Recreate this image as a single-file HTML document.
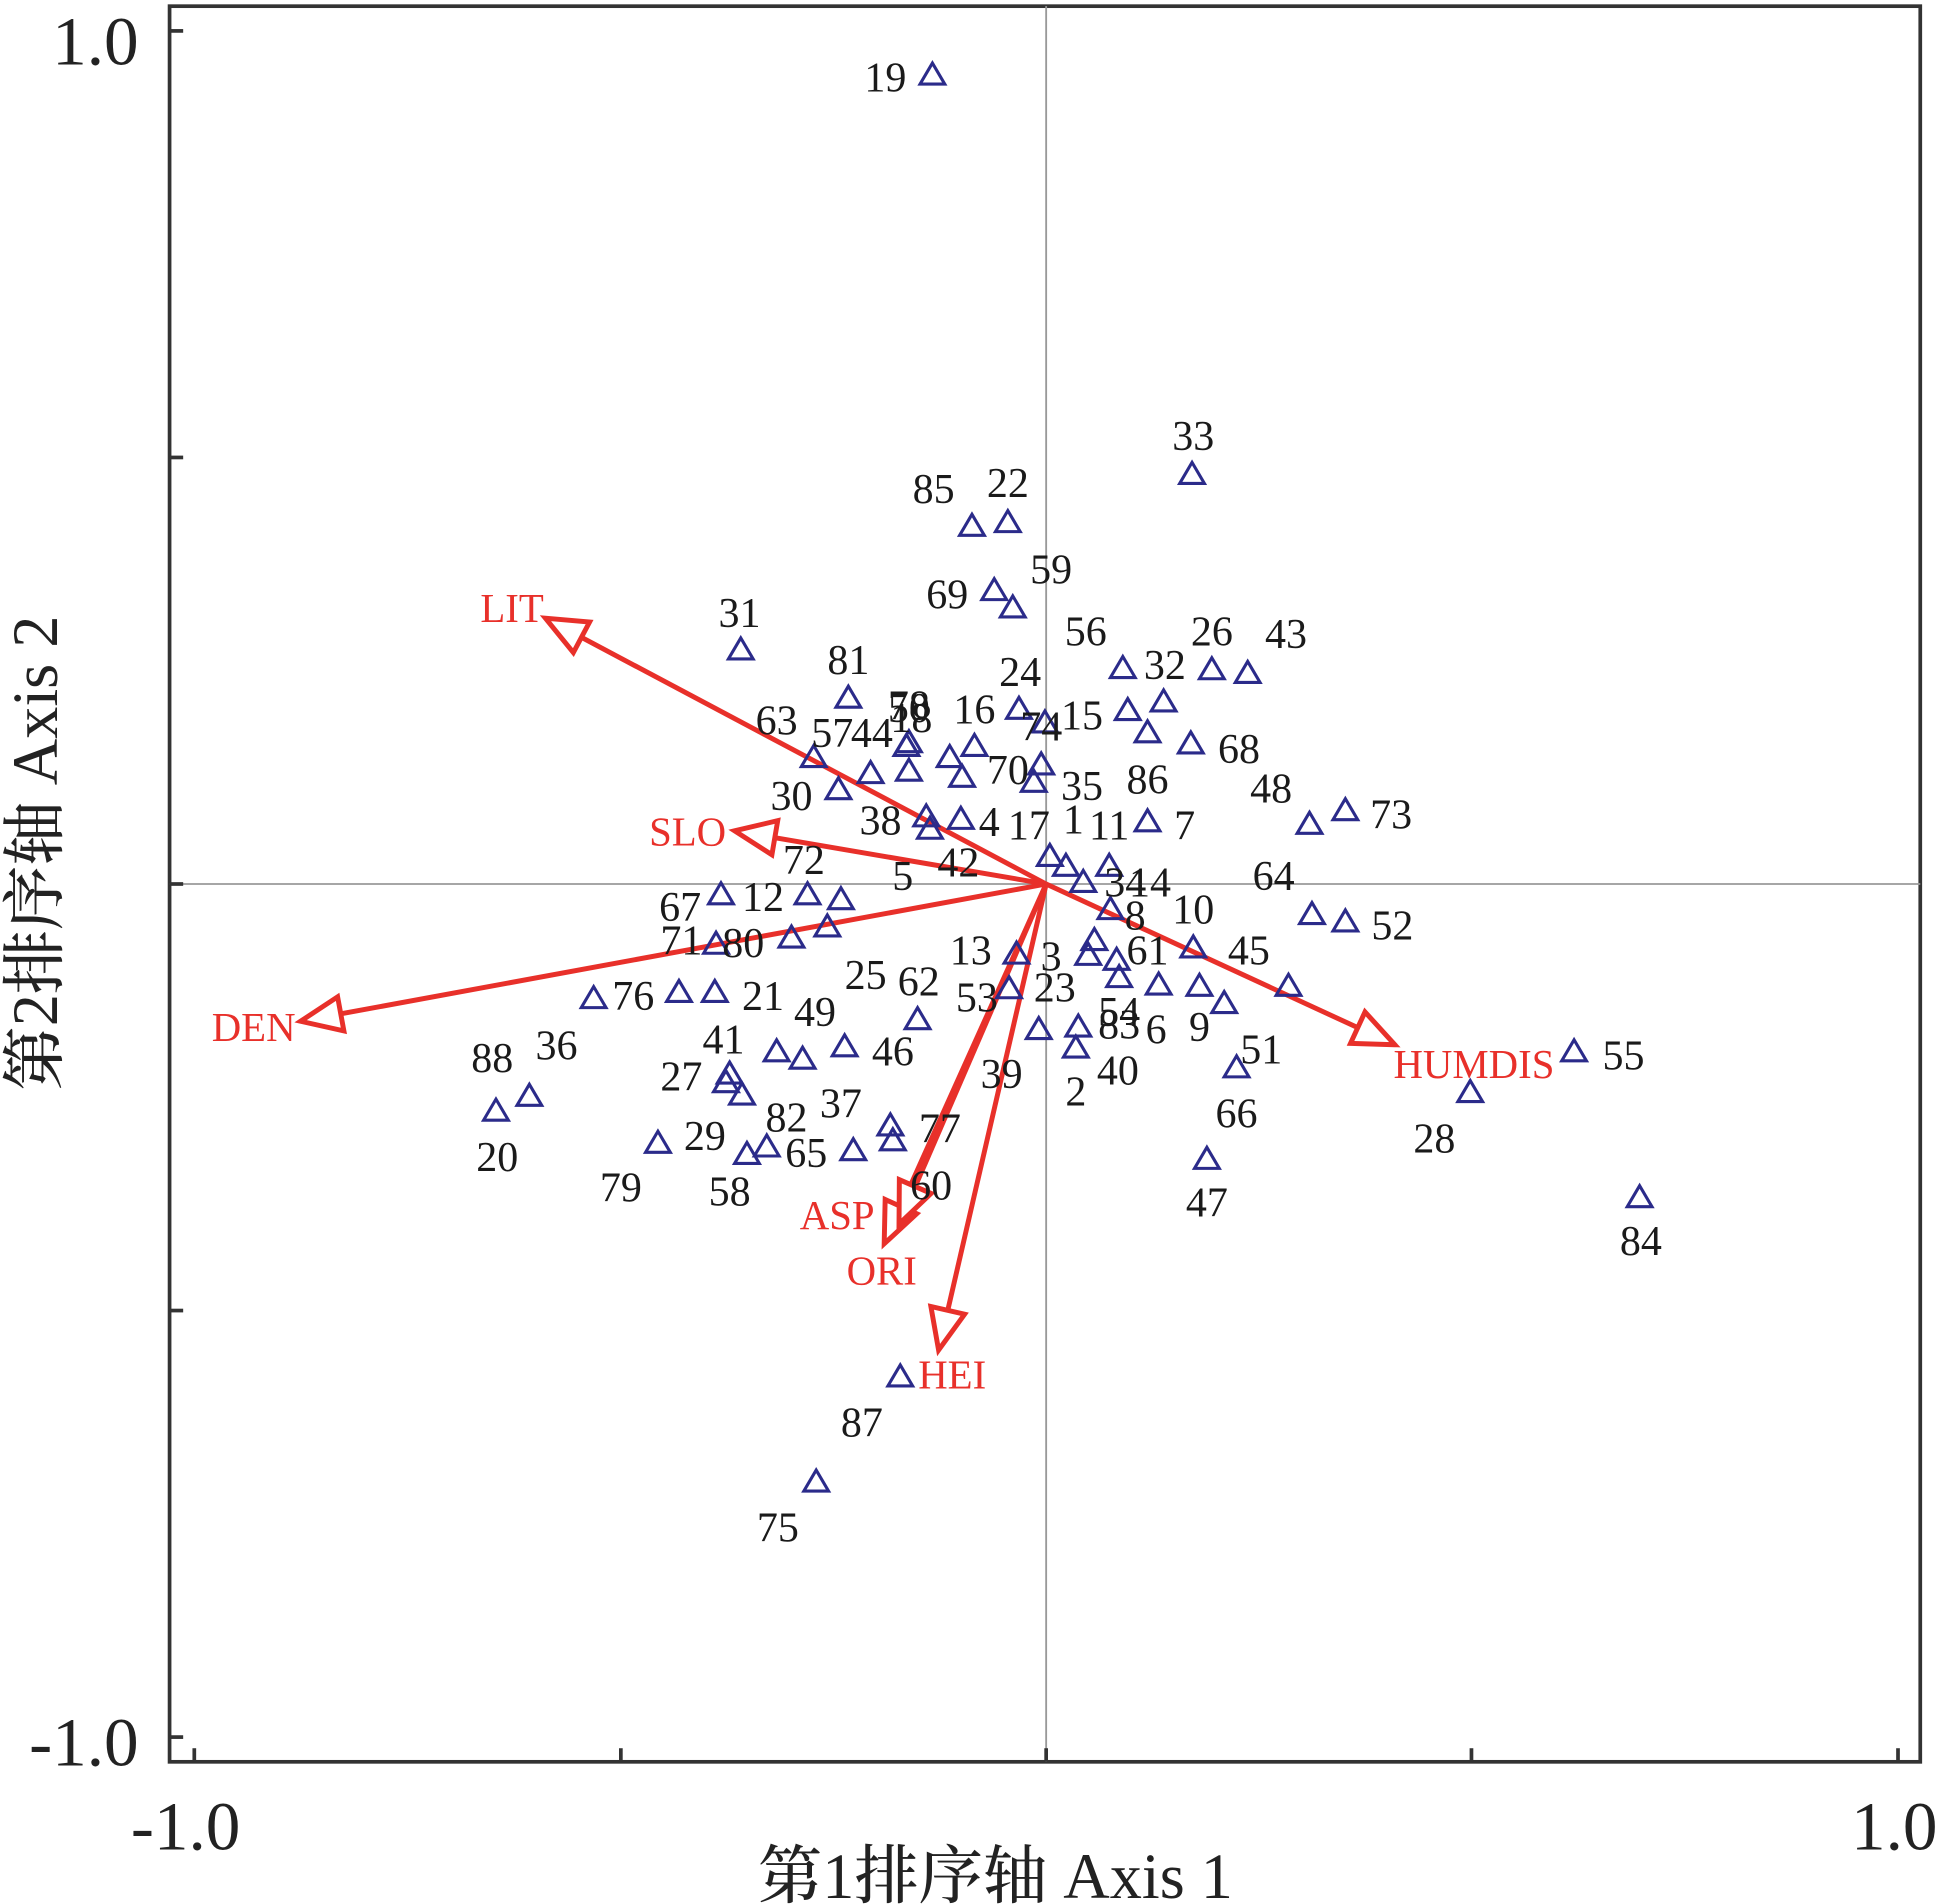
<!DOCTYPE html>
<html><head><meta charset="utf-8"><style>
html,body{margin:0;padding:0;background:#fff}
svg{display:block}
text{font-family:"Liberation Serif","Noto Serif CJK SC",serif}
</style></head><body>
<svg id="s" xmlns="http://www.w3.org/2000/svg" width="1939" height="1904" viewBox="0 0 1568 1540">
<rect x="0" y="0" width="1568" height="1540" fill="#fff"/>
<rect x="137" y="5" width="1416" height="1420" fill="none" stroke="#333" stroke-width="3"/>
<line x1="846" y1="5" x2="846" y2="1425" stroke="#999" stroke-width="1.5"/>
<line x1="137" y1="715" x2="1553" y2="715" stroke="#999" stroke-width="1.5"/>
<g stroke="#333" stroke-width="3">
<line x1="137" y1="25" x2="148" y2="25"/><line x1="137" y1="370" x2="148" y2="370"/>
<line x1="137" y1="715" x2="148" y2="715"/><line x1="137" y1="1060" x2="148" y2="1060"/>
<line x1="137" y1="1405" x2="148" y2="1405"/>
<line x1="157" y1="1425" x2="157" y2="1414"/><line x1="502" y1="1425" x2="502" y2="1414"/>
<line x1="846" y1="1425" x2="846" y2="1414"/><line x1="1190" y1="1425" x2="1190" y2="1414"/>
<line x1="1535" y1="1425" x2="1535" y2="1414"/>
</g>
<g font-size="56" fill="#222">
<text x="112" y="52" text-anchor="end">1.0</text>
<text x="112" y="1428" text-anchor="end">-1.0</text>
<text x="150" y="1496" text-anchor="middle">-1.0</text>
<text x="1532" y="1496" text-anchor="middle">1.0</text>
</g>
<g font-size="52" fill="#222" font-weight="500">
<text x="805" y="1535" text-anchor="middle">第1排序轴 Axis 1</text>
<text x="0" y="0" text-anchor="middle" transform="translate(46,690) rotate(-90)">第2排序轴 Axis 2</text>
</g>
<g id="arrows"></g>
<g id="tris" fill="none" stroke="#2b2b8a" stroke-width="2.5"></g>
<g id="labs" font-size="34" fill="#1a1a1a" text-anchor="middle"></g>
<g font-size="33" fill="#e8302a" text-anchor="middle">
<text x="414" y="503">LIT</text>
<text x="556" y="684">SLO</text>
<text x="205" y="842">DEN</text>
<text x="1192" y="872">HUMDIS</text>
<text x="677" y="994">ASP</text>
<text x="713" y="1039">ORI</text>
<text x="770" y="1123">HEI</text>
</g>
</svg>
<script>
var NS="http://www.w3.org/2000/svg";
function el(p,t,a){var e=document.createElementNS(NS,t);for(var k in a)e.setAttribute(k,a[k]);document.getElementById(p).appendChild(e);return e;}
var T=[[754,60],[964,383],[786,425],[815,422],[804,477],[819,491],[599,525],[908,540],[980,541],[1009,544],[941,567],[824,573],[686,564],[735,600],[733,603],[788,603],[845,584],[912,574],[658,612],[704,625],[735,623],[842,618],[963,601],[928,592],[836,632],[1059,666],[1088,655],[678,638],[749,660],[777,662],[752,670],[928,664],[768,612],[778,628],[849,692],[862,700],[876,713],[897,700],[898,735],[1061,739],[1088,745],[583,723],[653,723],[680,727],[669,749],[640,758],[579,763],[965,766],[880,772],[885,760],[903,776],[822,771],[549,802],[578,802],[480,807],[742,824],[816,799],[905,790],[937,796],[970,797],[990,811],[1042,797],[628,850],[649,856],[683,846],[840,832],[872,830],[870,847],[1000,863],[1273,850],[1189,883],[590,868],[587,875],[600,885],[401,898],[428,886],[720,910],[722,922],[532,924],[620,927],[604,933],[690,930],[976,937],[1326,968],[728,1113],[660,1198]];
T.forEach(function(p){var x=p[0],y=p[1];el("tris","polygon",{points:(x)+","+(y-9)+" "+(x-10)+","+(y+8)+" "+(x+10)+","+(y+8)});});
var L=[["19",716,62],["33",965,352],["85",755,395],["22",815,390],["69",766,480],["59",850,460],["31",598,495],["56",878,510],["26",980,510],["43",1040,512],["32",942,537],["24",825,543],["81",686,533],["78",735,570],["50",735,572],["18",737,580],["16",788,573],["74",842,587],["15",875,578],["63",628,582],["57",673,592],["44",705,592],["70",815,622],["68",1002,605],["35",875,635],["86",928,630],["48",1028,637],["73",1125,658],["30",640,643],["38",712,663],["4",800,664],["17",832,667],["1",868,662],["11",897,667],["7",958,667],["72",650,695],["5",730,708],["42",775,697],["34",910,713],["14",930,713],["8",918,740],["10",965,735],["64",1030,708],["52",1126,748],["67",550,733],["12",617,725],["71",551,760],["80",601,762],["45",1010,768],["61",928,768],["13",785,768],["3",850,773],["21",617,805],["76",512,805],["25",700,788],["62",743,793],["53",790,806],["23",853,798],["49",659,818],["54",905,818],["83",905,828],["6",935,832],["9",970,830],["41",585,840],["46",722,850],["40",904,865],["2",870,882],["39",810,868],["51",1020,848],["55",1313,853],["28",1160,920],["88",398,855],["36",450,845],["27",551,870],["20",402,935],["37",680,892],["82",636,903],["77",760,912],["29",570,918],["65",652,932],["66",1000,900],["79",502,960],["58",590,963],["60",753,958],["47",976,972],["84",1327,1003],["87",697,1150],["75",629,1235]];
L.forEach(function(l){var t=el("labs","text",{x:l[1],y:l[2]+12});t.textContent=l[0];});
var O=[846,715];
var A=[[441,500],[594,672],[243,826],[1128,845],[715,1006],[727,990],[759,1092]];
A.forEach(function(a){var dx=a[0]-O[0],dy=a[1]-O[1],len=Math.sqrt(dx*dx+dy*dy),ux=dx/len,uy=dy/len,h=33,w=14;
var bx=a[0]-ux*h,by=a[1]-uy*h;
el("arrows","line",{x1:O[0],y1:O[1],x2:bx,y2:by,stroke:"#e8302a","stroke-width":4});
el("arrows","polygon",{points:a[0]+","+a[1]+" "+(bx-uy*w)+","+(by+ux*w)+" "+(bx+uy*w)+","+(by-ux*w),fill:"#fff",stroke:"#e8302a","stroke-width":4});});
</script>
</body></html>
